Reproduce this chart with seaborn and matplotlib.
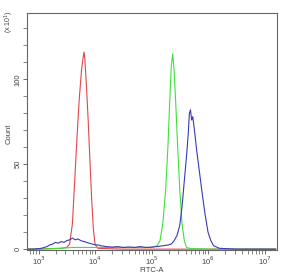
import numpy as np
import pandas as pd
import matplotlib
matplotlib.use("Agg")
import matplotlib.pyplot as plt
from matplotlib.ticker import FixedLocator, NullFormatter
import seaborn as sns

# log10(FITC-A) positions and counts (x10^1) for each histogram
red_logx = [2.8, 3.0, 3.2, 3.4, 3.5, 3.55, 3.6, 3.64, 3.68, 3.72, 3.76, 3.79, 3.805,
            3.82, 3.85, 3.88, 3.91, 3.94, 3.97, 4.0, 4.05, 4.2, 4.5, 5.0, 6.0, 7.2]
red_count = [0, 0, 0.3, 0.5, 1, 3, 15, 40, 65, 88, 105, 113, 116,
             112, 95, 75, 52, 30, 12, 3, 0.5, 0.3, 0, 0, 0, 0]

green_logx = [2.8, 3.3, 3.6, 4.0, 4.5, 5.0, 5.1, 5.15, 5.2, 5.25, 5.29, 5.32, 5.35,
              5.375, 5.40, 5.43, 5.46, 5.5, 5.54, 5.58, 5.62, 5.7, 6.0, 7.2]
green_count = [0, 0.3, 1, 1, 1, 1, 2, 5, 15, 35, 60, 85, 108,
               115, 105, 85, 62, 35, 15, 5, 1, 0.3, 0, 0]

blue_logx = [2.8, 2.9, 3.0, 3.05, 3.1, 3.15, 3.2, 3.25, 3.3, 3.35,
             3.4, 3.45, 3.5, 3.55, 3.6, 3.65, 3.7, 3.75, 3.8, 3.85,
             3.9, 3.95, 4.0, 4.05, 4.1, 4.15, 4.2, 4.3, 4.4, 4.5,
             4.6, 4.7, 4.8, 4.9, 5.0, 5.1, 5.2, 5.3, 5.35, 5.4,
             5.45, 5.5, 5.54, 5.58, 5.62, 5.65, 5.67, 5.69, 5.71, 5.73,
             5.76, 5.8, 5.85, 5.9, 5.95, 6.0, 6.05, 6.1, 6.2, 6.5, 7.2]
blue_count = [0, 0, 0.3, 0.5, 1, 1.5, 2.5, 3, 4, 3.5,
              4.5, 4, 5, 5.5, 6.5, 5.5, 6, 5, 4.5, 4,
              3.5, 3, 2.5, 2.5, 2, 1.8, 1.5, 1.2, 1.5, 1,
              1.3, 1, 1.5, 1, 1.2, 1.5, 2, 2.5, 3, 5,
              8, 14, 25, 40, 55, 68, 80, 82, 76, 78,
              70, 58, 45, 32, 20, 10, 5, 2, 0.5, 0, 0]

x_decades = [3, 4, 5, 6, 7]
x_ticklabels = [r"10$^3$", r"10$^4$", r"10$^5$", r"10$^6$", r"10$^7$"]
y_major = [0, 50, 100]

sns.set_style("white")
plt.rcParams["font.family"] = ["Liberation Sans", "DejaVu Sans"]

fig = plt.figure(figsize=(2.86, 2.75), dpi=100)
ax = fig.add_axes([27 / 286, 25 / 275, 250 / 286, 237 / 275])

frames = []
for name, lx, c in [("red", red_logx, red_count), ("green", green_logx, green_count),
                    ("blue", blue_logx, blue_count)]:
    frames.append(pd.DataFrame({"x": np.power(10.0, lx), "count": c, "series": name}))
df = pd.concat(frames, ignore_index=True)

palette = {"red": "#e0474c", "green": "#3ee03e", "blue": "#3a3ab8"}
sns.lineplot(data=df, x="x", y="count", hue="series", palette=palette,
             linewidth=0.8, legend=False, ax=ax, sort=False, estimator=None)

ax.set_xscale("log")
ax.set_xlim(10 ** 2.796, 10 ** 7.221)
ax.set_ylim(-0.5, 139)

for s in ax.spines.values():
    s.set_color("#666666")
    s.set_linewidth(0.8)

ax.xaxis.set_major_locator(FixedLocator([10.0 ** d for d in x_decades]))
ax.set_xticklabels(x_ticklabels)
minors = []
for d in [2, 3, 4, 5, 6, 7]:
    for m in range(2, 10):
        minors.append(m * 10.0 ** d)
ax.xaxis.set_minor_locator(FixedLocator(minors))
ax.xaxis.set_minor_formatter(NullFormatter())

ax.yaxis.set_major_locator(FixedLocator(y_major))
ax.yaxis.set_minor_locator(FixedLocator(list(range(0, 140, 10))))
ax.set_yticklabels([str(v) for v in y_major], rotation=90, va="center")

ax.tick_params(axis="both", which="major", direction="out", length=3, width=0.6,
               color="#555555", labelsize=5.5, labelcolor="#444444",
               bottom=True, left=True)
ax.tick_params(axis="x", which="major", pad=0)
ax.tick_params(axis="y", which="major", pad=1)
ax.tick_params(axis="both", which="minor", direction="out", length=3, width=0.5,
               color="#555555", bottom=True, left=True)

ax.set_xlabel("FITC-A", fontsize=5.5, color="#444444")
ax.xaxis.set_label_coords(0.5, -0.07)
ax.set_ylabel("Count", fontsize=5.5, color="#444444")
ax.yaxis.set_label_coords(-0.056, 0.49)
fig.text(9 / 286, 1 - 22 / 275, r"(x 10$^1$)", rotation=90, fontsize=5,
         color="#444444", ha="center", va="center")

fig.savefig("out.png", dpi=100)
